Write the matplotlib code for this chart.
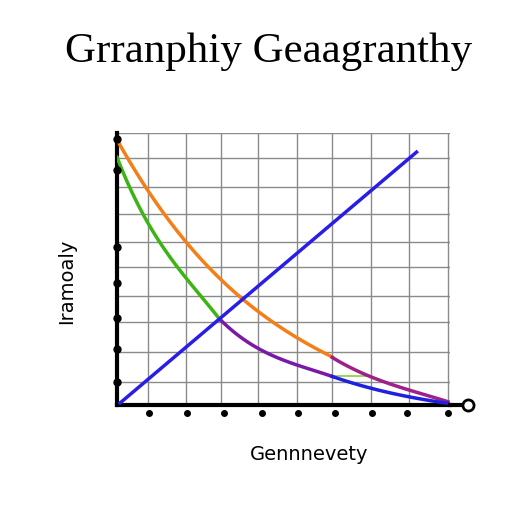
import numpy as np
import matplotlib.pyplot as plt

# -----------------------------
# Data
orange_x = [0.0, 0.85, 1.86, 2.8, 3.82, 4.87, 5.82]
orange_y = [9.74, 7.9, 6.0, 4.6, 3.43, 2.51, 1.75]
red_x = [5.82, 6.86, 7.9, 8.95]
red_y = [1.75, 1.04, 0.55, 0.12]
green_x = [0.0, 0.4, 0.85, 1.35, 1.86, 2.3, 2.8]
green_y = [9.13, 7.8, 6.68, 5.6, 4.72, 3.9, 3.13]
purple_x = [2.8, 3.82, 4.87, 5.82]
purple_y = [3.13, 2.08, 1.47, 1.05]
blue_low_x = [5.82, 6.86, 7.9, 8.95]
blue_low_y = [1.05, 0.62, 0.3, 0.06]
blue_x = [0.08, 8.1]
blue_y = [0.07, 9.3]

title = "Grranphiy Geaagranthy"
xlabel = "Gennnevety"
ylabel = "Iramoaly"

# -----------------------------
fig = plt.figure(figsize=(5.12, 5.12), dpi=100)
ax = fig.add_axes([0.2285, 0.209, 0.650, 0.531])

ax.set_xlim(0, 9)
ax.set_ylim(0, 10)

gx = [0.85, 1.86, 2.8, 3.82, 4.87, 5.82, 6.86, 7.9, 8.95]
gy = [0.85, 1.95, 3.05, 4.01, 5.07, 5.99, 7.02, 8.01, 9.08, 10.0]
for v in gx:
    ax.axvline(v, color="#8a8a8a", lw=1.0, zorder=1)
for h in gy:
    ax.axhline(h, color="#8a8a8a", lw=1.0, zorder=1)

def smooth(xs, ys):
    t = np.linspace(xs[0], xs[-1], 100)
    c = np.polyfit(xs, ys, min(3, len(xs) - 1))
    return t, np.polyval(c, t)

ax.plot(*smooth(orange_x, orange_y), color="#f57f17", lw=2.5, zorder=3)
ax.plot(*smooth(red_x, red_y), color="#a0208a", lw=2.5, zorder=3)
ax.plot(*smooth(green_x, green_y), color="#3cb414", lw=2.5, zorder=3)
ax.plot(*smooth(purple_x, purple_y), color="#7a18a8", lw=2.5, zorder=3)
ax.plot(*smooth(blue_low_x, blue_low_y), color="#2020e0", lw=2.5, zorder=3)
ax.plot([5.82, 6.86], [1.05, 1.05], color="#8ccc40", lw=1.2, zorder=2)
ax.plot(blue_x, blue_y, color="#2a1ee6", lw=2.5, zorder=4)

for s in ["top", "right"]:
    ax.spines[s].set_visible(False)
ax.spines["left"].set_linewidth(3)
ax.spines["bottom"].set_linewidth(3)
ax.set_xticks([])
ax.set_yticks([])

# axis end cap on the right
ax.plot([9, 9.45], [0, 0], color="black", lw=3, clip_on=False, zorder=5)
ax.plot([9.5], [0], marker="o", ms=8, mfc="white", mec="black", mew=2,
        clip_on=False, zorder=6)

# dots on the axes
ax.plot([0.86, 1.9, 2.9, 3.92, 4.9, 5.9, 6.9, 7.83, 8.95], [-0.3] * 9, "o",
        color="black", ms=4, clip_on=False, zorder=5)
ax.plot([0] * 7, [9.8, 8.65, 5.8, 4.5, 3.2, 2.07, 0.85], "o",
        color="black", ms=5, clip_on=False, zorder=5)

fig.text(0.525, 0.898, title, ha="center", va="center", fontsize=31,
         family="Liberation Serif")
fig.text(0.603, 0.112, xlabel, ha="center", va="center", fontsize=14,
         family="DejaVu Sans")
fig.text(0.13, 0.45, ylabel, ha="center", va="center", fontsize=14,
         rotation=90, family="DejaVu Sans")

plt.savefig("out.png", dpi=100)
